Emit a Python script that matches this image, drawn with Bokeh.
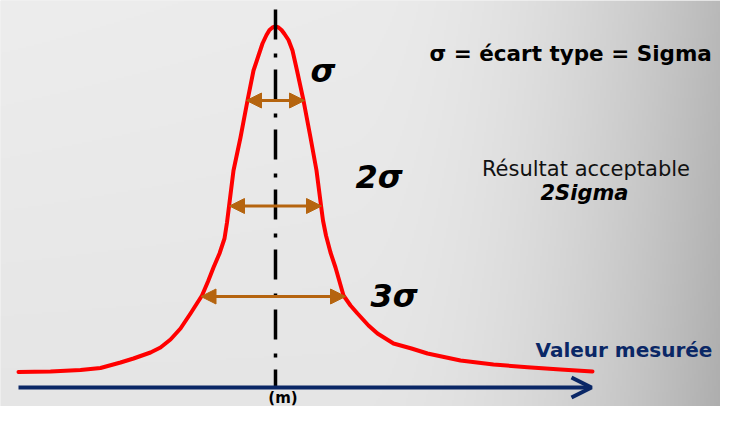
import numpy as np
from bokeh.plotting import figure
from bokeh.models import Range1d, Arrow, NormalHead, OpenHead, ColumnDataSource
from bokeh.core.properties import value
from bokeh.embed import file_html
from bokeh.resources import INLINE

# ---- data (picture-pixel coordinates) ----
curve_x = [18, 50, 80, 100, 120, 133, 150, 160, 170, 180, 190, 201.5, 207.5, 213, 219, 224,
           226.5, 228.5, 233, 240, 247, 253, 258, 262, 266, 269, 272, 275, 278, 281, 284,
           288, 292, 296.5, 303, 310, 316, 320.5, 322.5, 325.5, 330, 335, 339, 343, 350,
           357, 368, 377, 393, 411, 427, 460, 493, 527, 560, 592]
curve_y = [371.5, 371, 369.5, 367.5, 362, 358, 352, 347, 339, 328, 313, 295, 281, 267, 253, 238,
           222, 206, 170, 137, 100, 70, 55, 43, 34.5, 29.5, 27, 26, 27, 29.5, 33.5,
           39.5, 50, 70, 100, 137, 170, 205, 220, 235, 252, 267, 281, 295, 305,
           313, 325, 333, 343, 348, 353, 360, 364, 366.7, 369, 371]

mean_x = 275
mean_top, mean_bottom = 9, 386
axis_y = 387
axis_start, axis_end = 18, 591

sigma_y = [100, 205.5, 296]
sigma_left = [246, 229, 200.5]
sigma_right = [304, 321, 345]
sigma_labels = ["σ", "2σ", "3σ"]
sigma_label_x = [310, 355, 370]
sigma_label_y = [70, 176, 295]

title_text = "σ = écart type = Sigma"
note_line1 = "Résultat acceptable"
note_line2 = "2Sigma"
axis_label = "Valeur mesurée"
mean_label = "(m)"

# ---- styling ----
RED = "#FF0000"
ORANGE = "#B5640F"
NAVY = "#0A2766"
FONT = value("DejaVu Sans")

W, H = 720, 406
p = figure(width=W, height=H, x_range=Range1d(0, W), y_range=Range1d(H, 0),
           output_backend="svg", toolbar_location=None, min_border=0)
p.axis.visible = False
p.grid.visible = False
p.outline_line_color = None
p.background_fill_color = "#e6e6e6"
p.border_fill_color = "#e6e6e6"

# background gradient (light grey, darkening towards the right edge)
bw, bh = 368, 211
xs = np.linspace(0, 736, bw)[None, :]
ys = np.linspace(0, 422, bh)[:, None]
yn = ys / 422.0
t = np.clip((xs - 350) / 386.0, 0, 1)
g = 233 - 4 * yn - (52 + 8 * yn) * t ** 2 + 4 * (1 - xs / 736.0) * (1 - yn)
g = np.clip(g, 0, 255).astype(np.uint8)
img = np.empty((bh, bw), dtype=np.uint32)
view = img.view(dtype=np.uint8).reshape((bh, bw, 4))
view[..., 0] = g
view[..., 1] = g
view[..., 2] = g
view[..., 3] = 255
p.image_rgba(image=[img], x=0, y=0, dw=736, dh=422)

# curve
p.line(curve_x, curve_y, line_color=RED, line_width=4, line_join="round", line_cap="round")

# sigma arrows
src = ColumnDataSource(dict(x0=sigma_left, x1=sigma_right, y=sigma_y))
p.add_layout(Arrow(start=NormalHead(size=15, fill_color=ORANGE, line_color=ORANGE, line_width=1),
                   end=NormalHead(size=15, fill_color=ORANGE, line_color=ORANGE, line_width=1),
                   x_start="x0", x_end="x1", y_start="y", y_end="y", source=src,
                   line_color=ORANGE, line_width=3))

# axis arrow
p.add_layout(Arrow(end=OpenHead(size=20, line_color=NAVY, line_width=4),
                   x_start=axis_start, y_start=axis_y, x_end=axis_end, y_end=axis_y,
                   line_color=NAVY, line_width=4))

# mean line
p.line([mean_x, mean_x], [mean_top, mean_bottom], line_color="black", line_width=3.5,
       line_dash="30 14 4 12")

# sigma labels
p.text(x=sigma_label_x, y=sigma_label_y, text=sigma_labels, text_font=FONT,
       text_font_size="32px", text_font_style="bold italic", text_color="black",
       text_align="left", text_baseline="middle")

p.text(x=[429], y=[53], text=[title_text], text_font=FONT, text_font_size="21.5px",
       text_font_style="bold", text_color="black", text_align="left", text_baseline="middle")
p.text(x=[585.5], y=[168], text=[note_line1], text_font=FONT, text_font_size="21px",
       text_font_style="normal", text_color="#111111", text_align="center", text_baseline="middle")
p.text(x=[584], y=[192.5], text=[note_line2], text_font=FONT, text_font_size="21px",
       text_font_style="bold italic", text_color="black", text_align="center", text_baseline="middle")
p.text(x=[535], y=[349], text=[axis_label], text_font=FONT, text_font_size="20px",
       text_font_style="bold", text_color=NAVY, text_align="left", text_baseline="middle")
p.text(x=[282.5], y=[397], text=[mean_label], text_font=FONT, text_font_size="15px",
       text_font_style="bold", text_color="black", text_align="center", text_baseline="middle")

open("out.html", "w").write(file_html(p, INLINE))
